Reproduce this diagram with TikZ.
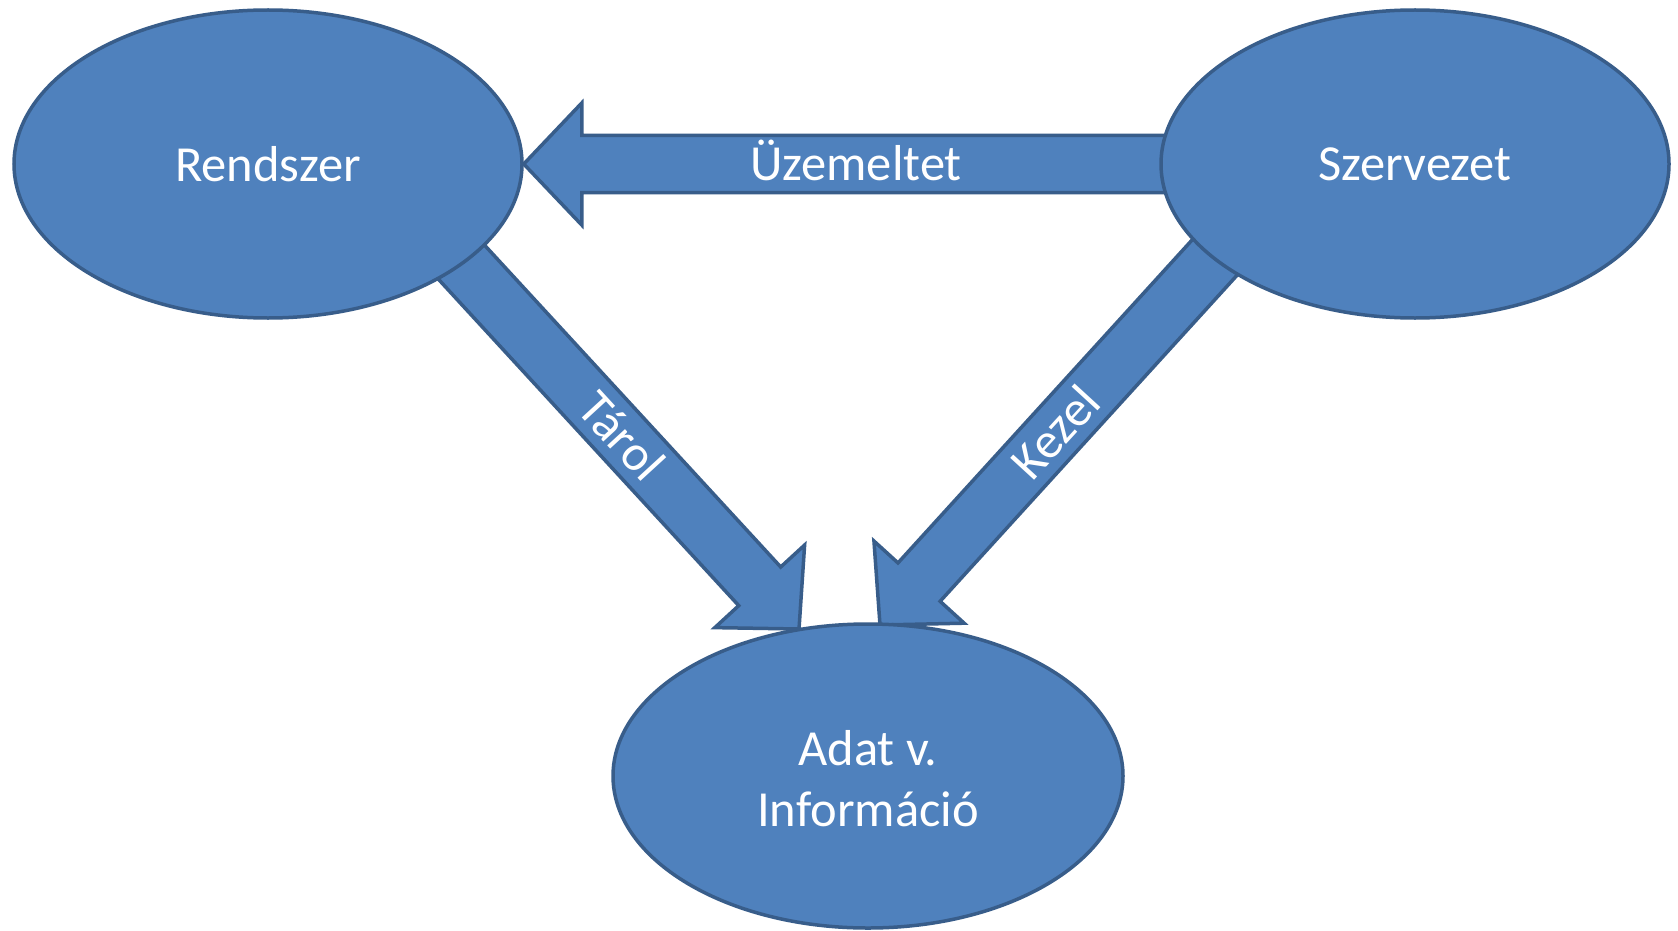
\documentclass[tikz,border=0pt]{standalone}
\usepackage{fontspec}
\setmainfont{Carlito}
\usetikzlibrary{shapes.geometric,calc,backgrounds}
\definecolor{boxfill}{HTML}{4F81BD}
\definecolor{boxline}{HTML}{385D8A}
\begin{document}
\begin{tikzpicture}[x=1pt,y=-1pt,
  blob/.style={ellipse, draw=boxline, fill=boxfill, line width=3.5pt, inner sep=0pt,
    minimum width=508pt, minimum height=308pt, text=white, align=center,
    font=\fontsize{50.5}{61}\selectfont},
  lbl/.style={text=white, inner sep=0pt, font=\fontsize{50.5}{61}\selectfont},
  blockarrow/.style={draw=boxline, fill=boxfill, line width=3.5pt, line join=miter,
    to path={
      ($(\tikztostart)!28.5pt!90:(\tikztotarget)$) --
      ($(\tikztotarget)!58pt!(\tikztostart)!28.5pt!90:(\tikztotarget)$) --
      ($(\tikztotarget)!58pt!(\tikztostart)!61pt!90:(\tikztotarget)$) --
      (\tikztotarget) --
      ($(\tikztotarget)!58pt!(\tikztostart)!61pt!-90:(\tikztotarget)$) --
      ($(\tikztotarget)!58pt!(\tikztostart)!28.5pt!-90:(\tikztotarget)$) --
      ($(\tikztostart)!28.5pt!-90:(\tikztotarget)$) -- cycle}}]
\useasboundingbox (0,0) rectangle (1678,931);

\node[blob] (R) at (268,164) {Rendszer};
\node[blob] (S) at (1415,164) {Szervezet};
\node[blob, minimum width=510pt, minimum height=304pt] (A) at (868,776) {};
\node[lbl, align=center] (AText) at (868,779) {Adat v.\\Információ};

\coordinate (uTail) at (S.center);
\coordinate (uTip) at (R.east);
\coordinate (tTail) at (419,216);
\coordinate (tTip) at (799,629);
\coordinate (kTail) at (1257,211);
\coordinate (kTip) at (880,625);

\begin{pgfonlayer}{background}
\fill[white] (0,0) rectangle (1678,931);
\draw[blockarrow] (uTail) to (uTip);
\draw[blockarrow] (tTail) to (tTip);
\draw[blockarrow] (kTail) to (kTip);
\end{pgfonlayer}

\node[lbl, anchor=base] (uLbl) at (856,180) {Üzemeltet};
\node[lbl, rotate=-47.5] (tLbl) at (622,436) {Tárol};
\node[lbl, rotate=47.5] (kLbl) at (1055,432) {Kezel};
\end{tikzpicture}
\end{document}
